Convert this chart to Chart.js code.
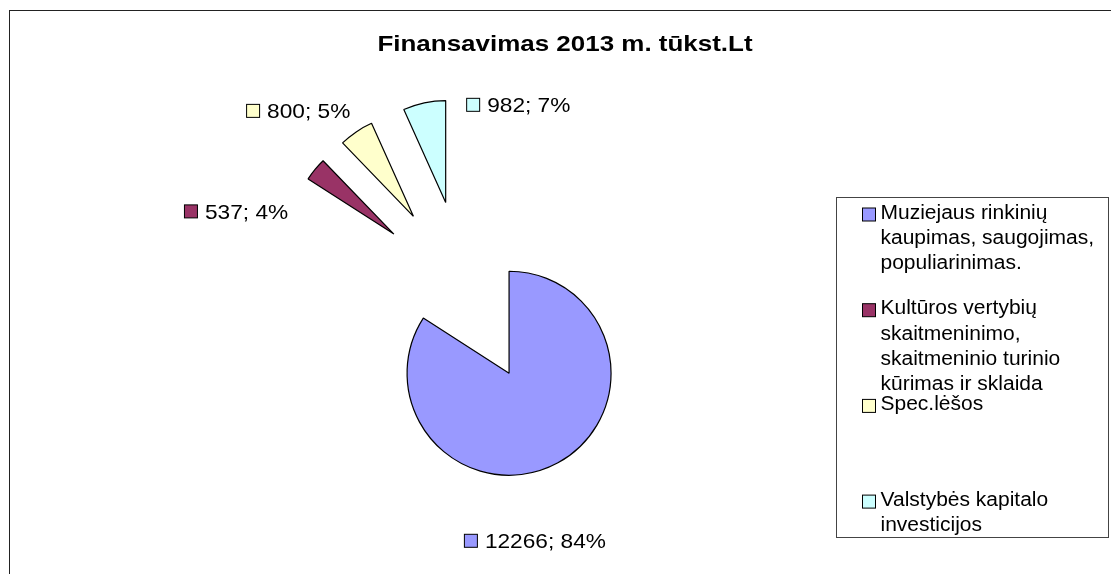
<!DOCTYPE html>
<html>
<head>
<meta charset="utf-8">
<title>Finansavimas 2013 m.</title>
<script src="https://cdn.jsdelivr.net/npm/chart.js@4.4.1/dist/chart.umd.min.js"></script>
<style>
  html, body { margin: 0; padding: 0; background: #fff; overflow: hidden; }
  #frame { position: absolute; left: 9px; top: 10px; width: 1200px; height: 700px;
           border-left: 1px solid #222; border-top: 1px solid #222; }
  #chart { position: absolute; left: 0; top: 0; }
</style>
</head>
<body>
<div id="frame"></div>
<canvas id="chart" width="1111" height="574"></canvas>
<script>
// duomenys
const chartTitle = 'Finansavimas 2013 m. tūkst.Lt';
const categories = [
    'Muziejaus rinkinių kaupimas, saugojimas, populiarinimas.',
    'Kultūros vertybių skaitmeninimo, skaitmeninio turinio kūrimas ir sklaida',
    'Spec.lėšos',
    'Valstybės kapitalo investicijos'
];
const values = [12266, 537, 800, 982];
const sliceColors = ['#9999FF', '#993366', '#FFFFCC', '#CCFFFF'];

const FONT = '"Liberation Sans", Arial, sans-serif';
const EXPLODE = 92;   // visų dalių atitraukimas nuo centro
const labelNudge = [[-23, 78], [-79, 42], [-58, -21], [94, 2]];

function stretchedText(ctx, text, x, y, sx) {
    ctx.save();
    ctx.translate(x, y);
    ctx.scale(sx, 1);
    ctx.fillText(text, 0, 0);
    ctx.restore();
}

// Excel'io stiliaus "exploded" pyragas: kiekviena dalis pastumiama pagal savo vidurinį kampą
const explodePlugin = {
    id: 'explode',
    afterDatasetUpdate(chart, args) {
        const meta = chart.getDatasetMeta(args.index);
        meta.data.forEach(arc => {
            const mid = (arc.startAngle + arc.endAngle) / 2;
            arc.x += Math.cos(mid) * EXPLODE;
            arc.y += Math.sin(mid) * EXPLODE;
        });
    }
};

// duomenų etiketės: kvadratėlis + "reikšmė; procentai"
const labelPlugin = {
    id: 'sliceLabels',
    afterDatasetsDraw(chart) {
        const ctx = chart.ctx;
        const meta = chart.getDatasetMeta(0);
        const data = chart.data.datasets[0].data;
        const total = data.reduce((a, b) => a + b, 0);
        ctx.save();
        ctx.font = '21px ' + FONT;
        ctx.textBaseline = 'alphabetic';
        ctx.textAlign = 'left';
        meta.data.forEach((arc, i) => {
            const mid = (arc.startAngle + arc.endAngle) / 2;
            const cx = arc.x + Math.cos(mid) * arc.outerRadius + labelNudge[i][0];
            const cy = arc.y + Math.sin(mid) * arc.outerRadius + labelNudge[i][1];
            const text = data[i] + '; ' + Math.round(data[i] / total * 100) + '%';
            const sx = 1.08;
            const tw = ctx.measureText(text).width * sx;
            const sq = 14, gap = 7;
            const left = cx - (sq + gap + tw) / 2;
            ctx.fillStyle = sliceColors[i];
            ctx.strokeStyle = '#000';
            ctx.lineWidth = 1;
            ctx.fillRect(left + 0.5, cy - 7 + 0.5, sq - 1, sq - 1);
            ctx.strokeRect(left + 0.5, cy - 7 + 0.5, sq - 1, sq - 1);
            ctx.fillStyle = '#000';
            stretchedText(ctx, text, left + sq + gap, cy + 7.5, sx);
        });
        ctx.restore();
    }
};

// pavadinimas ir legenda
const boxPlugin = {
    id: 'titleLegend',
    afterDraw(chart) {
        const ctx = chart.ctx;
        ctx.save();
        ctx.fillStyle = '#000';
        ctx.font = 'bold 22px ' + FONT;
        ctx.textBaseline = 'alphabetic';
        const tsx = 1.18;
        const tw = ctx.measureText(chartTitle).width * tsx;
        ctx.textAlign = 'left';
        stretchedText(ctx, chartTitle, 565 - tw / 2, 51, tsx);

        // legendos rėmelis
        const lx = 836.5, ly = 197.5, lw = 272, lh = 340;
        ctx.strokeStyle = '#444';
        ctx.lineWidth = 1;
        ctx.strokeRect(lx, ly, lw, lh);

        ctx.font = '20px ' + FONT;
        const sx = 1.05;
        const maxW = 222;
        categories.forEach((name, i) => {
            const words = name.split(' ');
            const lines = [];
            let cur = '';
            words.forEach(w => {
                const test = cur ? cur + ' ' + w : w;
                if (ctx.measureText(test).width * sx > maxW && cur) {
                    lines.push(cur);
                    cur = w;
                } else {
                    cur = test;
                }
            });
            lines.push(cur);
            const base = 218.5 + i * 95.7;
            ctx.fillStyle = sliceColors[i];
            ctx.strokeStyle = '#000';
            ctx.fillRect(862.5, base - 10.5, 13, 13);
            ctx.strokeRect(862.5, base - 10.5, 13, 13);
            ctx.fillStyle = '#000';
            lines.forEach((ln, k) => stretchedText(ctx, ln, 880.5, base + k * 25.3, sx));
        });
        ctx.restore();
    }
};

const ctx = document.getElementById('chart').getContext('2d');
const chart = new Chart(ctx, {
    type: 'pie',
    data: {
        labels: categories,
        datasets: [{
            data: values,
            backgroundColor: sliceColors,
            borderColor: '#000',
            borderWidth: 1.2
        }]
    },
    options: {
        responsive: false,
        animation: false,
        events: [],
        radius: 102,
        layout: { padding: { left: 20, right: 201, top: 60, bottom: 49 } },
        plugins: {
            legend: { display: false },
            title: { display: false },
            tooltip: { enabled: false }
        }
    },
    plugins: [explodePlugin, labelPlugin, boxPlugin]
});
</script>
</body>
</html>
